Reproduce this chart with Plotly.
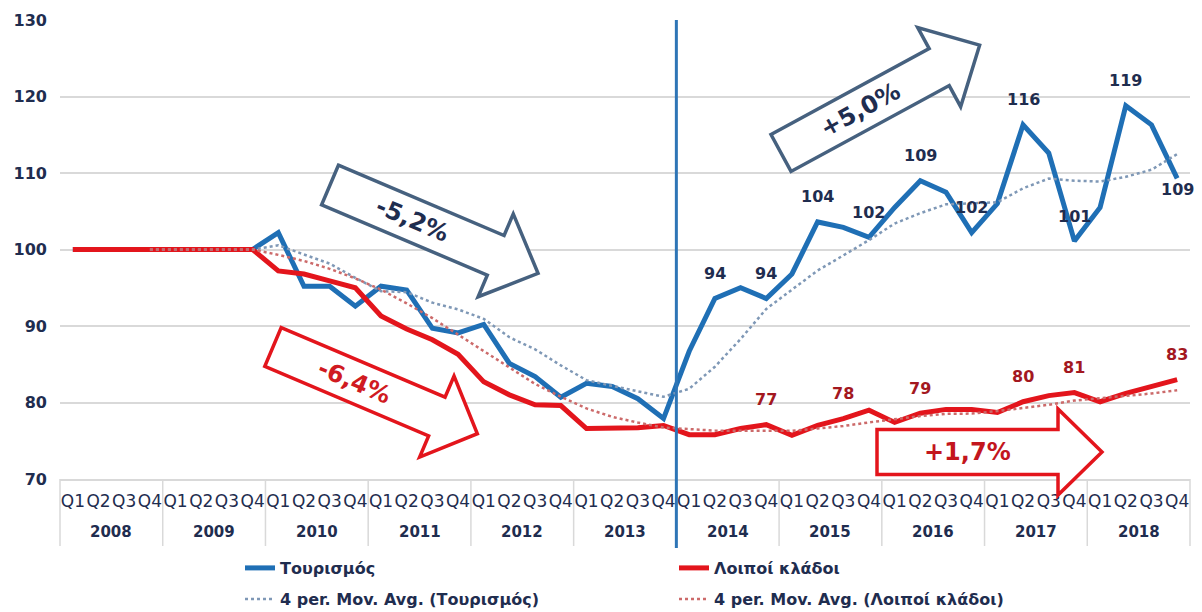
import math
import pandas as pd
import plotly.graph_objects as go

# ---- data -------------------------------------------------------------
years = [str(y) for y in range(2008, 2019)]
quarters = ["Q1", "Q2", "Q3", "Q4"]

tourism = [
    100.0, 100.0, 100.0, 100.0,   # 2008
    100.0, 100.0, 100.0, 100.0,   # 2009
    102.2, 95.2, 95.2, 92.6,      # 2010
    95.2, 94.7, 89.7, 89.1,       # 2011
    90.2, 85.1, 83.4, 80.7,       # 2012
    82.5, 82.1, 80.5, 77.9,       # 2013
    86.7, 93.6, 95.0, 93.6,       # 2014
    96.8, 103.6, 102.9, 101.6,    # 2015
    105.5, 109.0, 107.5, 102.2,   # 2016
    106.0, 116.3, 112.6, 101.1,   # 2017
    105.5, 118.8, 116.3, 109.3,   # 2018
]
other_sectors = [
    100.0, 100.0, 100.0, 100.0,   # 2008
    100.0, 100.0, 100.0, 100.0,   # 2009
    97.2, 96.8, 95.9, 95.0,       # 2010
    91.3, 89.6, 88.2, 86.3,       # 2011
    82.7, 81.0, 79.7, 79.6,       # 2012
    76.6, 76.6, 76.7, 77.0,       # 2013
    75.8, 75.8, 76.6, 77.1,       # 2014
    75.7, 77.0, 77.9, 79.0,       # 2015
    77.4, 78.6, 79.1, 79.1,       # 2016
    78.7, 80.1, 80.9, 81.3,       # 2017
    80.1, 81.2, 82.1, 83.0,       # 2018
]

# quarters that carry a value label
tourism_labelled = [25, 27, 29, 31, 33, 35, 37, 39, 41, 43]
other_labelled = [27, 30, 33, 37, 39, 43]

# period averages written on the arrows
trend_labels = ["-5,2%", "-6,4%", "+5,0%", "+1,7%"]

series_names = ["Τουρισμός", "Λοιποί κλάδοι"]
ma_names = ["4 per. Mov. Avg. (Τουρισμός)", "4 per. Mov. Avg. (Λοιποί κλάδοι)"]

# ---- styling ----------------------------------------------------------
BLUE = "#1f6fb5"
RED = "#e3151c"
BLUE_MA = "#7f98b6"
RED_MA = "#cc6a6a"
NAVY = "#1f2d4f"
SLATE = "#46617f"
DARK_RED = "#a3181f"
GRID = "#d9d9d9"
FONT = "DejaVu Sans"

W, H = 1202, 612
ML, MR, MT, MB = 60, 12, 20, 133
PW, PH = W - ML - MR, H - MT - MB

n = len(tourism)
xq = list(range(n))
tick_text = quarters * len(years)


def moving_avg(vals, period=4):
    s = pd.Series(vals).rolling(period).mean()
    return [None if pd.isna(v) else float(v) for v in s]


def px_to_paper(x, y):
    return (x - ML) / PW, (MT + PH - y) / PH


def paper_y(y):
    return (MT + PH - y) / PH


def block_arrow(x0, y0, length, angle, body_w, head_w, head_len):
    """Closed block-arrow path (paper coords) from a tail centre given in px."""
    a = math.radians(angle)
    pts_local = [
        (0, -body_w / 2), (length - head_len, -body_w / 2),
        (length - head_len, -head_w / 2), (length, 0),
        (length - head_len, head_w / 2), (length - head_len, body_w / 2),
        (0, body_w / 2),
    ]
    pts = []
    for u, v in pts_local:
        x = x0 + u * math.cos(a) - v * math.sin(a)
        y = y0 + u * math.sin(a) + v * math.cos(a)
        pts.append(px_to_paper(x, y))
    path = "M " + " L ".join(f"{p:.5f},{q:.5f}" for p, q in pts) + " Z"
    mid = (length - head_len) / 2
    cx = x0 + mid * math.cos(a)
    cy = y0 + mid * math.sin(a)
    return path, px_to_paper(cx, cy)


fig = go.Figure()

fig.add_trace(go.Scatter(x=xq, y=tourism, mode="lines", name=series_names[0],
                         line=dict(color=BLUE, width=5), legend="legend"))
fig.add_trace(go.Scatter(x=xq, y=other_sectors, mode="lines", name=series_names[1],
                         line=dict(color=RED, width=5), legend="legend"))
fig.add_trace(go.Scatter(x=xq, y=moving_avg(tourism), mode="lines", name=ma_names[0],
                         line=dict(color=BLUE_MA, width=2.5, dash="dot"), legend="legend2"))
fig.add_trace(go.Scatter(x=xq, y=moving_avg(other_sectors), mode="lines", name=ma_names[1],
                         line=dict(color=RED_MA, width=2.5, dash="dot"), legend="legend2"))

annotations = []
shapes = []

# value labels
for i in tourism_labelled:
    below = i == n - 1
    annotations.append(dict(
        x=i, y=tourism[i], xref="x", yref="y", text=f"{round(tourism[i])}",
        showarrow=False, yanchor="middle", yshift=-11 if below else 25,
        font=dict(family=FONT, size=16, color=NAVY, weight="bold")))
for i in other_labelled:
    annotations.append(dict(
        x=i, y=other_sectors[i], xref="x", yref="y", text=f"{round(other_sectors[i])}",
        showarrow=False, yanchor="middle", yshift=25,
        font=dict(family=FONT, size=16, color=DARK_RED, weight="bold")))

# year row under the quarter labels, with dividers between years
for k, yr in enumerate(years):
    annotations.append(dict(
        x=4 * k + 1.5, y=paper_y(532), xref="x", yref="paper", text=yr,
        showarrow=False, yanchor="middle",
        font=dict(family=FONT, size=15, color=NAVY, weight="bold")))
for k in range(len(years) + 1):
    xp = 4 * k / n
    shapes.append(dict(type="line", xref="paper", yref="paper", x0=xp, x1=xp,
                       y0=0, y1=paper_y(546), line=dict(color=GRID, width=1.5)))

# break between the two periods
shapes.append(dict(type="line", xref="x", yref="paper", x0=23.5, x1=23.5,
                   y0=paper_y(548), y1=1.0, line=dict(color="#2e75b6", width=3)))

# trend arrows: tail centre (px), length, angle, body, head width, head length
arrow_specs = [
    ((330, 185, 226, 23, 43, 90, 46), SLATE, NAVY, 23),
    ((273, 347, 222, 23, 42, 88, 44), RED, "#d01a21", 23),
    ((781, 153, 226, -28.5, 42, 90, 46), SLATE, NAVY, -28.5),
    ((877, 452, 225, 0, 45, 86, 44), RED, "#c3161d", 0),
]
for (geom, line_col, text_col, ang), label in zip(arrow_specs, trend_labels):
    path, (cx, cy) = block_arrow(*geom)
    shapes.append(dict(type="path", xref="paper", yref="paper", path=path,
                       fillcolor="white", line=dict(color=line_col, width=3.5),
                       layer="above"))
    annotations.append(dict(x=cx, y=cy, xref="paper", yref="paper", text=label,
                            showarrow=False, textangle=ang, xanchor="center",
                            yanchor="middle",
                            font=dict(family=FONT, size=24, color=text_col, weight="bold")))

legend_font = dict(family=FONT, size=16, color=NAVY, weight="bold")
lx, _ = px_to_paper(240, 0)

fig.update_layout(
    width=W, height=H,
    margin=dict(l=ML, r=MR, t=MT, b=MB, autoexpand=False),
    paper_bgcolor="white", plot_bgcolor="white",
    xaxis=dict(range=[-0.5, n - 0.5], tickmode="array", tickvals=xq, ticktext=tick_text,
               tickangle=0, showgrid=False, zeroline=False, showline=True,
               linecolor=GRID, linewidth=2, ticks="", ticklabelstandoff=6,
               automargin=False,
               tickfont=dict(family=FONT, size=17, color=NAVY)),
    yaxis=dict(range=[70, 130], dtick=10, showgrid=True, gridcolor=GRID, gridwidth=2,
               zeroline=False, showline=False, ticks="", ticklabelstandoff=12,
               automargin=False,
               tickfont=dict(family=FONT, size=16, color=NAVY, weight="bold")),
    legend=dict(orientation="h", x=lx, xanchor="left", y=paper_y(568),
                yanchor="middle", entrywidth=389, font=legend_font,
                bgcolor="rgba(0,0,0,0)"),
    legend2=dict(orientation="h", x=lx, xanchor="left", y=paper_y(599),
                 yanchor="middle", entrywidth=389, font=legend_font,
                 bgcolor="rgba(0,0,0,0)"),
    annotations=annotations,
    shapes=shapes,
)

fig.write_html("out.html")
